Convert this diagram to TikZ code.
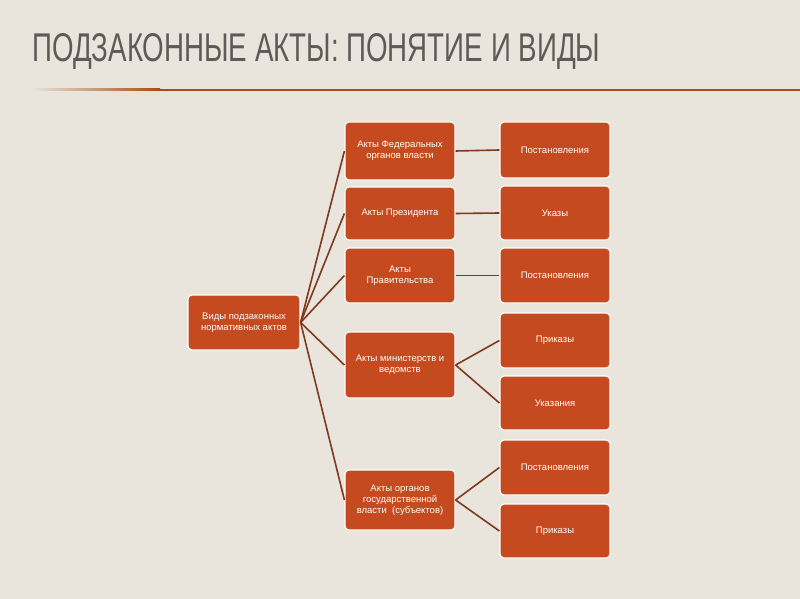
\documentclass[tikz,border=0pt]{standalone}
\usepackage{fontspec}
\setmainfont{Liberation Sans}
\usetikzlibrary{fadings}
\definecolor{bg}{HTML}{E9E4DC}
\definecolor{boxc}{HTML}{C64A1F}
\definecolor{lnc}{HTML}{7E3A1F}
\definecolor{ttl}{HTML}{5E5A58}
\tikzset{
 bx/.style={draw=white,line width=1.2pt,fill=boxc,rounded corners=4pt,text=white,align=center,font=\fontsize{9.5}{11}\selectfont,inner sep=1pt},
 cn/.style={draw=lnc,line width=1.6pt},
}
\begin{document}
\begin{tikzpicture}[x=1pt,y=-1pt]
\fill[bg] (0,0) rectangle (800,599);
\node[anchor=south west,inner sep=0,text=ttl] (title) at (32,70) {\resizebox{568pt}{28pt}{ПОДЗАКОННЫЕ АКТЫ: ПОНЯТИЕ И ВИДЫ}};
\shade[left color=bg,right color=lnc!70!orange] (30,89) rectangle (160,91);
\fill[lnc!70!orange] (160,89) rectangle (800,91);
\newcommand\bxat[6]{\node[bx,minimum width=#4-#2,minimum height=#5-#3] (#1) at ({(#2+#4)/2},{(#3+#5)/2}) {#6};}
\bxat{root}{188}{295}{300}{350}{Виды подзаконных\\нормативных актов}
\bxat{a1}{345}{122}{455}{180}{Акты Федеральных\\органов власти}
\bxat{a2}{345}{187}{455}{240}{Акты Президента}
\bxat{a3}{345}{248}{455}{303}{Акты\\Правительства}
\bxat{a4}{345}{332}{455}{398}{Акты министерств и\\ведомств}
\bxat{a5}{345}{470}{455}{530}{Акты органов\\государственной\\власти \ (субъектов)}
\bxat{b1}{500}{122}{610}{178}{Постановления}
\bxat{b2}{500}{186}{610}{240}{Указы}
\bxat{b3}{500}{248}{610}{303}{Постановления}
\bxat{b4}{500}{313}{610}{368}{Приказы}
\bxat{b5}{500}{376}{610}{430}{Указания}
\bxat{b6}{500}{440}{610}{495}{Постановления}
\bxat{b7}{500}{504}{610}{558}{Приказы}
\begin{scope}[on background layer/.style={}]
\foreach \a in {a1,a2,a3,a4,a5} \draw[cn] (root.east) -- (\a.west);
\draw[cn] (a1.east) -- (b1.west);
\draw[cn] (a2.east) -- (b2.west);
\draw[cn] (a3.east) -- (b3.west);
\draw[cn] (a4.east) -- (b4.west);
\draw[cn] (a4.east) -- (b5.west);
\draw[cn] (a5.east) -- (b6.west);
\draw[cn] (a5.east) -- (b7.west);
\end{scope}
\end{tikzpicture}
\end{document}
